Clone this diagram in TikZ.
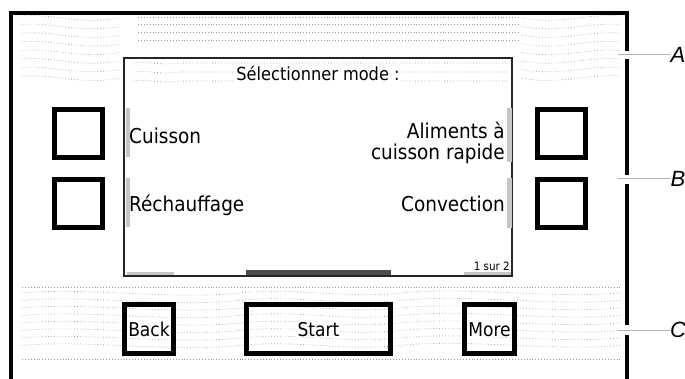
\documentclass[tikz,border=0pt]{standalone}
\usepackage{fontspec}
\setmainfont{DejaVu Sans Condensed}
\newfontfamily\labfont{Liberation Sans}
\tikzset{
  frameline/.style={line width=3.5pt, black},
  hwbtn/.style={draw, line width=5pt, minimum width=48pt, minimum height=48pt, inner sep=0pt},
  softbtn/.style={draw, line width=5pt, minimum height=49pt, inner sep=0pt},
  tex/.style={gray!80, line width=0.65pt, dash pattern=on 0.7pt off 2.2pt},
  menu/.style={font=\fontsize{20.5}{24}\selectfont, inner sep=1pt},
  titletext/.style={font=\fontsize{18}{21}\selectfont, inner sep=1pt, fill=white},
  btntext/.style={font=\fontsize{19}{22}\selectfont, inner sep=1pt, fill=white},
  lead/.style={gray!60, line width=1pt},
  letter/.style={font=\labfont\itshape\fontsize{22}{25}\selectfont, inner sep=0pt},
  patch/.style={fill=gray!45, draw=none},
  darkpatch/.style={fill=black!70, draw=none},
}
\begin{document}
\begin{tikzpicture}[x=1pt,y=-1pt]
\useasboundingbox (0,0) rectangle (685,379);

% ---------- textures (top band)
\foreach \i in {0,...,7}{
  \pgfmathsetmacro{\yy}{16+\i*8.6}
  \draw[tex] (22,\yy) .. controls (50,\yy-3) and (80,\yy+9) .. (120,\yy+2);
  \draw[tex] (522,\yy+2) .. controls (560,\yy+9) and (590,\yy-3) .. (620,\yy);
}
\foreach \yy in {17,24,32,40}{
  \draw[tex] (138,\yy) -- (518,\yy);
}
\foreach \yy in {63,72,81}{
  \draw[tex] (134,\yy) .. controls (150,\yy-2) and (160,\yy+3) .. (180,\yy) -- (508,\yy);
}

% ---------- textures (bottom band)
\draw[tex] (22,287) -- (620,287);
\draw[tex] (22,359) -- (620,359);
\foreach \i in {0,...,7}{
  \pgfmathsetmacro{\yy}{293+\i*7.5}
  \draw[tex] (22,\yy) .. controls (90,\yy-6) and (170,\yy+7) .. (240,\yy)
     .. controls (300,\yy-6) and (340,\yy+6) .. (400,\yy)
     .. controls (470,\yy-7) and (550,\yy+6) .. (620,\yy);
}

% ---------- outer frame
\coordinate (fbl) at (11,379);
\coordinate (ftl) at (11,13);
\coordinate (ftr) at (627,13);
\coordinate (gA1) at (627,51);
\coordinate (gA2) at (627,59);
\coordinate (gB1) at (627,175);
\coordinate (gB2) at (627,184);
\coordinate (gC1) at (627,325);
\coordinate (gC2) at (627,335);
\coordinate (fbr) at (627,379);
\draw[frameline] (fbl) -- (ftl) -- (ftr) -- (gA1);
\draw[frameline] (gA2) -- (gB1);
\draw[frameline] (gB2) -- (gC1);
\draw[frameline] (gC2) -- (fbr);

% ---------- screen
\node[draw=black!85, line width=2.2pt, minimum width=388pt, minimum height=218pt, inner sep=0pt] (screen) at (318,167) {};
\fill[patch] (125.5,108) rectangle (130,157);
\fill[patch] (125.5,178) rectangle (130,227);
\fill[patch] (507,108) rectangle (511.5,162);
\fill[patch] (507,178) rectangle (511.5,228);
\fill[patch] (127,272) rectangle (174,275.5);
\fill[patch] (464,272) rectangle (511,275.5);
\fill[darkpatch] (246,270.5) rectangle (391,275.5);

% ---------- screen texts
\node[titletext, anchor=base] (title) at (318,81) {Sélectionner mode :};
\node[menu, anchor=base west] (cuisson) at (128,144) {Cuisson};
\node[menu, anchor=base west] (rech) at (128,212) {Réchauffage};
\node[menu, anchor=base east] (alim1) at (506,139) {Aliments à};
\node[menu, anchor=base east] (alim2) at (506,160) {cuisson rapide};
\node[menu, anchor=base east] (conv) at (506,212) {Convection};
\node[font=\fontsize{11.5}{13}\selectfont, inner sep=0pt, anchor=base east] (page) at (510,270) {1 sur 2};

% ---------- hardware buttons
\node[hwbtn] (L1) at (78.5,133.5) {};
\node[hwbtn] (L2) at (78.5,203.5) {};
\node[hwbtn] (R1) at (561.5,133.5) {};
\node[hwbtn] (R2) at (561.5,203.5) {};

% ---------- soft buttons
\node[softbtn, minimum width=49pt] (back) at (149,329) {};
\node[softbtn, minimum width=144pt] (start) at (318.5,329) {};
\node[softbtn, minimum width=50pt] (more) at (489.5,329) {};
\node[btntext, anchor=base] (backt) at (149,336) {Back};
\node[btntext, anchor=base] (startt) at (318.5,336) {Start};
\node[btntext, anchor=base] (moret) at (489.5,336) {More};

% ---------- callouts
\node[letter] (A) at (678,55) {A};
\node[letter] (B) at (678,179) {B};
\node[letter] (C) at (678,330) {C};
\coordinate (pA) at (618,55);
\coordinate (pB) at (618,179);
\coordinate (pC) at (618,330);
\draw[lead] (pA) -- (A.west);
\draw[lead] (pB) -- (B.west);
\draw[lead] (pC) -- (C.west);
\end{tikzpicture}
\end{document}
